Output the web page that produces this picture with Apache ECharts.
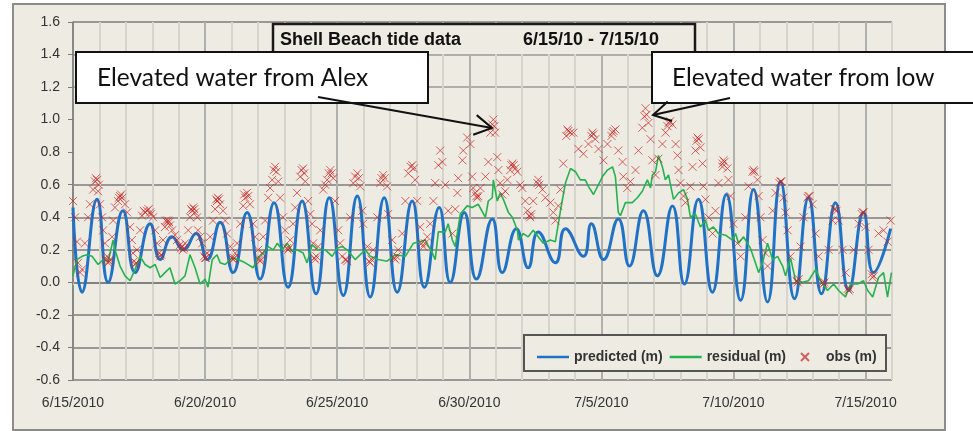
<!DOCTYPE html>
<html>
<head>
<meta charset="utf-8">
<script src="https://cdn.jsdelivr.net/npm/echarts@6/dist/echarts.min.js"></script>
<style>
html, body { margin: 0; padding: 0; background: #fff; }
#chart { width: 973px; height: 431px; }
</style>
</head>
<body>
<div id="chart"></div>
<script>
// x values are days after 6/15/2010 00:00
var xTickLabels = ['6/15/2010', '6/20/2010', '6/25/2010', '6/30/2010', '7/5/2010', '7/10/2010', '7/15/2010'];
var seriesNames = ['predicted (m)', 'residual (m)', 'obs (m)'];

// predicted tide: highs and lows
var predicted = [
  [0.00, 0.46], [0.34, -0.06], [0.91, 0.51], [1.33, 0.00], [1.89, 0.44], [2.35, 0.06],
  [2.92, 0.36], [3.30, 0.14], [3.75, 0.28], [4.17, 0.20], [4.66, 0.30], [5.08, 0.14],
  [5.57, 0.37], [6.06, 0.06], [6.59, 0.43], [7.08, 0.02], [7.61, 0.49], [8.14, -0.03],
  [8.67, 0.50], [9.20, -0.07], [9.70, 0.52], [10.23, -0.08], [10.76, 0.53], [11.25, -0.09],
  [11.78, 0.52], [12.27, -0.06], [12.84, 0.50], [13.30, -0.03], [13.86, 0.46], [14.28, 0.00],
  [14.81, 0.43], [15.27, 0.02], [15.87, 0.39], [16.25, 0.06], [16.78, 0.33], [17.23, 0.09],
  [17.61, 0.31], [18.26, 0.12], [18.64, 0.33], [19.32, 0.16], [19.62, 0.36], [20.08, 0.14],
  [20.64, 0.39], [21.06, 0.10], [21.59, 0.44], [22.12, 0.04], [22.69, 0.47], [23.14, -0.01],
  [23.67, 0.51], [24.20, -0.06], [24.73, 0.54], [25.27, -0.11], [25.76, 0.57], [26.29, -0.12],
  [26.78, 0.62], [27.31, -0.10], [27.84, 0.52], [28.33, -0.07], [28.86, 0.49], [29.36, -0.05],
  [29.92, 0.43], [30.30, 0.06], [30.95, 0.33]
];

var residual = [
  [0.00, 0.04], [0.15, 0.14], [0.34, 0.16], [0.53, 0.17], [0.72, 0.16], [0.95, 0.11], [1.14, 0.14],
  [1.33, 0.13], [1.52, 0.26], [1.59, 0.20], [1.78, 0.10], [1.97, 0.04], [2.16, 0.01], [2.35, 0.08],
  [2.54, 0.16], [2.73, 0.11], [2.92, 0.09], [3.11, 0.11], [3.30, 0.03], [3.48, 0.06], [3.67, 0.09],
  [3.86, -0.01], [4.05, 0.01], [4.24, 0.04], [4.43, 0.17], [4.62, 0.09], [4.81, -0.01], [5.00, 0.02],
  [5.11, -0.03], [5.27, 0.14], [5.45, 0.17], [5.57, 0.12], [5.76, 0.11], [6.02, 0.15], [6.25, 0.14],
  [6.52, 0.12], [6.82, 0.09], [7.01, 0.15], [7.20, 0.18], [7.39, 0.22], [7.58, 0.20], [7.73, 0.24],
  [7.92, 0.20], [8.11, 0.24], [8.30, 0.19], [8.48, 0.20], [8.71, 0.18], [8.86, 0.12], [9.05, 0.23],
  [9.28, 0.20], [9.55, 0.20], [9.81, 0.16], [10.00, 0.21], [10.19, 0.22], [10.38, 0.20], [10.68, 0.14],
  [11.06, 0.20], [11.25, 0.16], [11.55, 0.14], [11.89, 0.13], [12.20, 0.17], [12.58, 0.16], [12.88, 0.24],
  [13.14, 0.25], [13.33, 0.26], [13.60, 0.18], [13.71, 0.14], [13.83, 0.31], [14.09, 0.31], [14.20, 0.36],
  [14.36, 0.26], [14.47, 0.22], [14.66, 0.42], [14.92, 0.47], [15.11, 0.46], [15.34, 0.48], [15.61, 0.40],
  [15.72, 0.50], [15.87, 0.52], [15.91, 0.63], [16.06, 0.50], [16.17, 0.55], [16.29, 0.51], [16.48, 0.43],
  [16.63, 0.40], [16.82, 0.32], [16.86, 0.26], [17.05, 0.30], [17.23, 0.28], [17.42, 0.32], [17.61, 0.28],
  [17.80, 0.24], [18.07, 0.26], [18.26, 0.25], [18.45, 0.44], [18.64, 0.61], [18.83, 0.70], [19.02, 0.68],
  [19.20, 0.63], [19.39, 0.63], [19.51, 0.59], [19.70, 0.54], [19.89, 0.60], [20.04, 0.65], [20.23, 0.69],
  [20.42, 0.71], [20.53, 0.65], [20.64, 0.43], [20.72, 0.41], [20.91, 0.49], [21.17, 0.49], [21.36, 0.52],
  [21.55, 0.56], [21.74, 0.63], [21.86, 0.58], [21.93, 0.66], [22.05, 0.68], [22.16, 0.78], [22.31, 0.71],
  [22.42, 0.63], [22.54, 0.66], [22.73, 0.51], [22.92, 0.55], [23.11, 0.57], [23.26, 0.51], [23.37, 0.40],
  [23.56, 0.42], [23.75, 0.34], [23.94, 0.38], [24.05, 0.32], [24.24, 0.34], [24.43, 0.30], [24.70, 0.29],
  [24.96, 0.26], [25.08, 0.30], [25.19, 0.24], [25.38, 0.28], [25.64, 0.21], [25.83, 0.12], [25.95, 0.06],
  [26.10, 0.12], [26.29, 0.24], [26.48, 0.14], [26.67, 0.16], [26.86, 0.10], [26.97, 0.04], [27.16, 0.15],
  [27.35, 0.01], [27.61, 0.00], [27.84, 0.01], [28.11, 0.08], [28.30, 0.01], [28.56, -0.05], [28.79, -0.01],
  [28.98, -0.05], [29.24, -0.09], [29.43, -0.01], [29.70, -0.01], [29.92, 0.01], [30.08, -0.05], [30.27, -0.09],
  [30.49, 0.03], [30.68, 0.06], [30.83, -0.09], [30.98, 0.06]
];

var obs = [
  [0.00, 0.50], [0.08, 0.40], [0.15, 0.25], [0.19, 0.12], [0.27, 0.06], [0.34, 0.08], [0.45, 0.24],
  [0.57, 0.40], [0.64, 0.48], [0.76, 0.57], [0.87, 0.64], [0.95, 0.56], [1.02, 0.48], [1.10, 0.40],
  [1.14, 0.32], [1.21, 0.24], [1.29, 0.16], [1.33, 0.12], [1.40, 0.14], [1.48, 0.28], [1.52, 0.38],
  [1.59, 0.46], [1.70, 0.50], [1.78, 0.53], [1.86, 0.52], [1.97, 0.48], [2.05, 0.43], [2.16, 0.34],
  [2.23, 0.26], [2.27, 0.18], [2.35, 0.11], [2.42, 0.20], [2.54, 0.32], [2.61, 0.41], [2.73, 0.43],
  [2.80, 0.44], [2.92, 0.43], [3.03, 0.40], [3.11, 0.32], [3.18, 0.24], [3.30, 0.16], [3.41, 0.26],
  [3.48, 0.34], [3.56, 0.37], [3.60, 0.38], [3.67, 0.35], [3.75, 0.32], [3.86, 0.29], [3.94, 0.26],
  [4.05, 0.23], [4.13, 0.22], [4.17, 0.20], [4.24, 0.24], [4.36, 0.32], [4.43, 0.40], [4.51, 0.44],
  [4.55, 0.46], [4.62, 0.43], [4.70, 0.40], [4.73, 0.32], [4.81, 0.28], [4.89, 0.24], [5.00, 0.15],
  [5.08, 0.18], [5.19, 0.28], [5.30, 0.38], [5.38, 0.45], [5.45, 0.50], [5.49, 0.52], [5.57, 0.48],
  [5.68, 0.44], [5.76, 0.38], [5.83, 0.30], [5.95, 0.22], [6.06, 0.14], [6.14, 0.18], [6.21, 0.24],
  [6.33, 0.36], [6.44, 0.47], [6.52, 0.52], [6.59, 0.55], [6.70, 0.48], [6.82, 0.36], [6.89, 0.28],
  [7.01, 0.20], [7.08, 0.13], [7.16, 0.18], [7.20, 0.28], [7.27, 0.38], [7.39, 0.52], [7.46, 0.58],
  [7.54, 0.63], [7.65, 0.71], [7.77, 0.62], [7.84, 0.52], [7.95, 0.40], [8.03, 0.32], [8.14, 0.20],
  [8.22, 0.26], [8.33, 0.36], [8.41, 0.46], [8.48, 0.55], [8.60, 0.65], [8.71, 0.70], [8.79, 0.62],
  [8.90, 0.50], [8.98, 0.42], [9.05, 0.36], [9.09, 0.24], [9.17, 0.14], [9.28, 0.22], [9.36, 0.32],
  [9.47, 0.57], [9.55, 0.60], [9.62, 0.63], [9.74, 0.69], [9.85, 0.64], [9.92, 0.50], [10.04, 0.32],
  [10.11, 0.24], [10.19, 0.16], [10.30, 0.14], [10.38, 0.13], [10.49, 0.40], [10.61, 0.61], [10.76, 0.67],
  [10.87, 0.59], [10.95, 0.44], [10.98, 0.36], [11.14, 0.22], [11.25, 0.12], [11.36, 0.20], [11.52, 0.40],
  [11.63, 0.61], [11.74, 0.66], [11.89, 0.59], [11.93, 0.42], [12.08, 0.26], [12.20, 0.14], [12.31, 0.20],
  [12.46, 0.30], [12.58, 0.50], [12.69, 0.67], [12.84, 0.72], [12.95, 0.63], [13.03, 0.50], [13.14, 0.34],
  [13.26, 0.22], [13.41, 0.28], [13.52, 0.36], [13.64, 0.50], [13.71, 0.61], [13.83, 0.72], [13.90, 0.81],
  [13.98, 0.74], [14.09, 0.60], [14.20, 0.44], [14.36, 0.30], [14.47, 0.45], [14.55, 0.55], [14.58, 0.64],
  [14.74, 0.75], [14.77, 0.81], [14.92, 0.89], [15.04, 0.85], [15.11, 0.65], [15.15, 0.58], [15.23, 0.55],
  [15.30, 0.52], [15.42, 0.58], [15.61, 0.65], [15.72, 0.74], [15.80, 0.92], [15.91, 1.00], [15.98, 0.92],
  [16.06, 0.77], [16.10, 0.69], [16.17, 0.61], [16.25, 0.54], [16.36, 0.56], [16.44, 0.63], [16.55, 0.69],
  [16.63, 0.73], [16.74, 0.70], [16.82, 0.68], [16.93, 0.60], [17.01, 0.58], [17.12, 0.50], [17.20, 0.44],
  [17.31, 0.40], [17.42, 0.50], [17.58, 0.61], [17.61, 0.63], [17.77, 0.57], [17.88, 0.52], [18.07, 0.49],
  [18.18, 0.43], [18.26, 0.38], [18.37, 0.47], [18.45, 0.57], [18.56, 0.73], [18.71, 0.94], [18.83, 0.92],
  [18.94, 0.92], [19.13, 0.82], [19.32, 0.79], [19.51, 0.85], [19.66, 0.92], [19.77, 0.88], [19.89, 0.82],
  [20.08, 0.75], [20.23, 0.85], [20.42, 0.92], [20.53, 0.94], [20.64, 0.81], [20.80, 0.74], [20.83, 0.65],
  [20.98, 0.58], [21.10, 0.62], [21.29, 0.69], [21.40, 0.81], [21.55, 0.95], [21.67, 1.07], [21.78, 0.98],
  [21.86, 0.88], [21.93, 0.75], [22.05, 0.66], [22.16, 0.76], [22.31, 0.85], [22.43, 0.92], [22.54, 0.98],
  [22.69, 0.97], [22.81, 0.85], [22.88, 0.78], [22.92, 0.69], [22.99, 0.61], [23.11, 0.53], [23.18, 0.49],
  [23.37, 0.59], [23.45, 0.71], [23.56, 0.81], [23.64, 0.89], [23.75, 0.83], [23.83, 0.73], [23.86, 0.59],
  [23.94, 0.51], [24.05, 0.40], [24.21, 0.30], [24.32, 0.44], [24.43, 0.61], [24.58, 0.71], [24.62, 0.75],
  [24.77, 0.70], [24.81, 0.63], [24.89, 0.53], [25.00, 0.36], [25.15, 0.24], [25.27, 0.16], [25.45, 0.40],
  [25.57, 0.59], [25.76, 0.69], [25.91, 0.63], [25.95, 0.53], [26.02, 0.40], [26.10, 0.26], [26.21, 0.18],
  [26.29, 0.10], [26.48, 0.44], [26.59, 0.55], [26.78, 0.62], [26.89, 0.52], [26.97, 0.43], [27.05, 0.32],
  [27.16, 0.16], [27.43, 0.00], [27.54, 0.22], [27.65, 0.40], [27.84, 0.53], [27.99, 0.48], [28.11, 0.30],
  [28.22, 0.16], [28.41, -0.01], [28.60, 0.20], [28.75, 0.38], [28.86, 0.45], [28.98, 0.38], [29.13, 0.20],
  [29.24, 0.06], [29.36, -0.05], [29.55, 0.20], [29.74, 0.36], [29.89, 0.43], [30.00, 0.34], [30.11, 0.20],
  [30.27, 0.03], [30.49, 0.30], [30.68, 0.32], [30.83, 0.25], [30.95, 0.38]
];

// extra obs marks in the dense clusters around highs and lows
var obsClusters = [
  [0.83, 0.62], [0.91, 0.63], [0.98, 0.60], [1.25, 0.14], [1.37, 0.13], [1.74, 0.52], [1.82, 0.54],
  [2.31, 0.13], [2.39, 0.12], [2.68, 0.44], [2.86, 0.45], [2.96, 0.42], [3.26, 0.18], [3.34, 0.17],
  [3.52, 0.38], [3.64, 0.37], [4.09, 0.21], [4.20, 0.21], [4.47, 0.45], [4.59, 0.45], [4.96, 0.16],
  [5.04, 0.15], [5.42, 0.51], [5.53, 0.51], [6.02, 0.15], [6.10, 0.15], [6.48, 0.54], [6.63, 0.53],
  [7.04, 0.14], [7.12, 0.14], [7.60, 0.69], [7.70, 0.68], [8.10, 0.21], [8.18, 0.21], [8.65, 0.69],
  [8.75, 0.67], [9.13, 0.15], [9.21, 0.16], [9.68, 0.67], [9.79, 0.67], [10.34, 0.14], [10.68, 0.65],
  [10.82, 0.64], [11.21, 0.13], [11.30, 0.14], [11.68, 0.64], [11.80, 0.64], [12.15, 0.15], [12.25, 0.16],
  [12.78, 0.71], [12.90, 0.70], [13.20, 0.24], [13.32, 0.24], [15.27, 0.53], [15.34, 0.53], [15.87, 0.97],
  [15.95, 0.96], [16.59, 0.72], [16.68, 0.72], [17.27, 0.41], [17.35, 0.42], [17.65, 0.60], [18.67, 0.90],
  [18.75, 0.93], [19.62, 0.90], [19.70, 0.91], [20.38, 0.90], [20.46, 0.93], [21.63, 1.02], [21.71, 1.03],
  [22.50, 0.96], [22.60, 0.99], [23.60, 0.87], [23.68, 0.88], [24.58, 0.73], [24.66, 0.74], [25.72, 0.68],
  [25.80, 0.68], [26.74, 0.61], [26.82, 0.62], [27.39, 0.01], [27.47, 0.02], [27.80, 0.52], [27.88, 0.53],
  [28.37, 0.00], [28.45, 0.00], [28.82, 0.45], [28.90, 0.44], [29.32, -0.04], [29.40, -0.04], [29.85, 0.42],
  [29.93, 0.43], [30.23, 0.05], [30.31, 0.04]
];

var BG = '#edebe2';
var AXIS_FONT = '"Liberation Sans", Arial, sans-serif';
var CALLOUT_FONT = 'Lato, "Open Sans", sans-serif';
var CLEAR = 'rgba(0,0,0,0)';
var GRID_DARK = '#7d7d7d';
var GRID_MID = '#9a9a96';

// open arrow head for the callout lines
function arrow(x1, y1, x2, y2) {
  var a = Math.atan2(y2 - y1, x2 - x1);
  var len = 20, spread = Math.PI / 6;
  var p1 = [x2 - len * Math.cos(a - spread), y2 - len * Math.sin(a - spread)];
  var p2 = [x2 - len * Math.cos(a + spread), y2 - len * Math.sin(a + spread)];
  return [
    { type: 'line', z: 20, shape: { x1: x1, y1: y1, x2: x2, y2: y2 }, style: { stroke: '#111', lineWidth: 2 } },
    { type: 'polyline', z: 20, shape: { points: [p1, [x2, y2], p2] }, style: { stroke: '#111', lineWidth: 2, fill: null } }
  ];
}

var legendText = { fontSize: 14, fontWeight: 'bold', color: '#333', fontFamily: AXIS_FONT };

var chart = echarts.init(document.getElementById('chart'));

var option = {
  backgroundColor: '#fff',
  animation: false,
  grid: { left: 73, right: 81, top: 22, bottom: 51, containLabel: false },
  legend: [
    {
      left: 532, top: 345, z: 6,
      icon: 'rect', itemWidth: 32, itemHeight: 2.5, itemGap: 7,
      textStyle: legendText,
      data: [seriesNames[0], seriesNames[1]]
    },
    {
      left: 795, top: 345, z: 6,
      itemWidth: 32, itemHeight: 8,
      textStyle: legendText,
      data: [seriesNames[2]]
    }
  ],
  xAxis: {
    type: 'value',
    min: 0, max: 31, interval: 1,
    axisLine: { show: true, lineStyle: { color: '#7a7a7a', width: 1.5 } },
    axisTick: { show: true, length: 3, lineStyle: { color: '#c8c8c0' } },
    axisLabel: {
      margin: 16, fontSize: 14, color: '#333', fontFamily: AXIS_FONT,
      formatter: function (v) { return v % 5 === 0 ? xTickLabels[v / 5] : ''; }
    },
    splitLine: {
      show: true,
      lineStyle: { width: 2, color: ['#b0b0ab', '#d6d4cc', '#d6d4cc', '#d6d4cc', '#d6d4cc'] }
    }
  },
  yAxis: {
    type: 'value',
    min: -0.6, max: 1.6, interval: 0.2,
    axisLine: { show: true, lineStyle: { color: '#7a7a7a', width: 1.5 } },
    axisTick: { show: true, length: 5, lineStyle: { color: '#7a7a7a' } },
    axisLabel: {
      margin: 13, fontSize: 14, color: '#333', fontFamily: AXIS_FONT,
      formatter: function (v) { return v.toFixed(1); }
    },
    splitLine: {
      show: true,
      lineStyle: {
        width: 1.5,
        // -0.6 ... 0.6 drawn, 0.8 and 1.0 missing in the source picture, 1.2 / 1.4 faint, 1.6 drawn
        color: [GRID_DARK, GRID_DARK, GRID_DARK, GRID_DARK, GRID_DARK, GRID_DARK, GRID_DARK,
                CLEAR, CLEAR, GRID_MID, GRID_MID, GRID_DARK]
      }
    }
  },
  series: [
    {
      name: seriesNames[0], type: 'line', data: predicted,
      smooth: 0.5, symbol: 'none', z: 3,
      lineStyle: { color: '#1f72c6', width: 3 },
      itemStyle: { color: '#1f72c6' }
    },
    {
      name: seriesNames[1], type: 'line', data: residual,
      symbol: 'none', z: 4,
      lineStyle: { color: '#25b24f', width: 1.6 },
      itemStyle: { color: '#25b24f' }
    },
    {
      name: seriesNames[2], type: 'scatter', data: obs.concat(obsClusters),
      symbol: 'path://M0 0L10 10M10 0L0 10', symbolSize: 8, z: 5,
      itemStyle: { color: 'rgba(200,30,30,0.85)', borderColor: 'rgba(200,30,30,0.85)', borderWidth: 1 }
    }
  ],
  graphic: [
    { type: 'rect', z: -10, shape: { x: 13, y: 4, width: 932, height: 426 },
      style: { fill: BG, stroke: '#8c8c8c', lineWidth: 2 } },
    // legend frame
    { type: 'rect', z: 5, shape: { x: 524, y: 335, width: 362, height: 36 },
      style: { fill: BG, stroke: '#555', lineWidth: 2 } },
    // title box: open at the bottom, cut off by the callouts
    { type: 'rect', z: 10, shape: { x: 273, y: 24, width: 422, height: 30 },
      style: { fill: BG } },
    { type: 'polyline', z: 10, shape: { points: [[273, 53], [273, 24], [695, 24], [695, 53]] },
      style: { stroke: '#1a1a1a', lineWidth: 2.5, fill: null } },
    { type: 'text', z: 11, x: 280, y: 40,
      style: { text: 'Shell Beach tide data', fill: '#111', font: 'bold 18px ' + AXIS_FONT, verticalAlign: 'middle' } },
    { type: 'text', z: 11, x: 523, y: 40,
      style: { text: '6/15/10 - 7/15/10', fill: '#111', font: 'bold 18px ' + AXIS_FONT, verticalAlign: 'middle' } },
    // callouts
    { type: 'rect', z: 15, shape: { x: 76, y: 52, width: 352, height: 51 },
      style: { fill: '#fff', stroke: '#111', lineWidth: 2 } },
    { type: 'text', z: 16, x: 97, y: 78,
      style: { text: 'Elevated water from Alex', fill: '#111', font: '24.5px ' + CALLOUT_FONT, verticalAlign: 'middle' } },
    { type: 'rect', z: 15, shape: { x: 652, y: 52, width: 340, height: 51 },
      style: { fill: '#fff', stroke: '#111', lineWidth: 2 } },
    { type: 'text', z: 16, x: 672, y: 78,
      style: { text: 'Elevated water from low', fill: '#111', font: '24.5px ' + CALLOUT_FONT, verticalAlign: 'middle' } }
  ].concat(arrow(318, 97, 492, 128), arrow(730, 98, 653, 115))
};

chart.setOption(option);
</script>
</body>
</html>
